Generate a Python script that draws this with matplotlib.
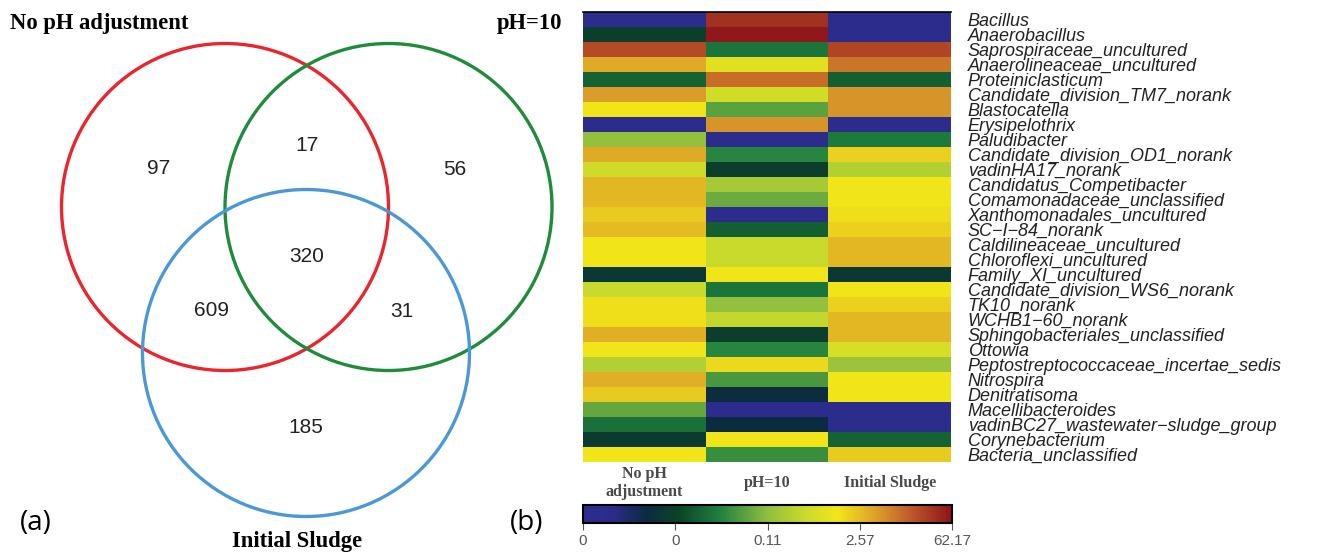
import numpy as np
import matplotlib
matplotlib.use('Agg')
import matplotlib.pyplot as plt
from matplotlib.patches import Circle
from matplotlib.colors import LinearSegmentedColormap
import matplotlib.transforms as mtransforms

# --- Venn data ---
set_names = ['No pH adjustment', 'pH=10', 'Initial Sludge']
# region counts: only A, only B, only C, AB, AC, BC, ABC
venn_counts = {'100': 97, '010': 56, '001': 185,
               '110': 17, '101': 609, '011': 31, '111': 320}

# --- heatmap data (scaled colour score, 0..1) ---
genera = [
    'Bacillus', 'Anaerobacillus', 'Saprospiraceae_uncultured',
    'Anaerolineaceae_uncultured', 'Proteiniclasticum',
    'Candidate_division_TM7_norank', 'Blastocatella', 'Erysipelothrix',
    'Paludibacter', 'Candidate_division_OD1_norank', 'vadinHA17_norank',
    'Candidatus_Competibacter', 'Comamonadaceae_unclassified',
    'Xanthomonadales_uncultured', 'SC\u2212I\u221284_norank',
    'Caldilineaceae_uncultured', 'Chloroflexi_uncultured',
    'Family_XI_uncultured', 'Candidate_division_WS6_norank', 'TK10_norank',
    'WCHB1\u221260_norank', 'Sphingobacteriales_unclassified', 'Ottowia',
    'Peptostreptococcaceae_incertae_sedis', 'Nitrospira', 'Denitratisoma',
    'Macellibacteroides', 'vadinBC27_wastewater\u2212sludge_group',
    'Corynebacterium', 'Bacteria_unclassified',
]
samples = ['No pH\nadjustment', 'pH=10', 'Initial Sludge']
no_ph = [0.03, 0.24, 0.91, 0.78, 0.32, 0.80, 0.69, 0.03, 0.51, 0.78,
         0.61, 0.76, 0.76, 0.73, 0.75, 0.69, 0.69, 0.22, 0.60, 0.70,
         0.70, 0.77, 0.69, 0.56, 0.77, 0.73, 0.45, 0.34, 0.23, 0.69]
ph10 = [0.95, 0.99, 0.35, 0.65, 0.86, 0.62, 0.44, 0.81, 0.03, 0.38,
        0.24, 0.54, 0.46, 0.03, 0.31, 0.60, 0.60, 0.69, 0.35, 0.51,
        0.59, 0.24, 0.38, 0.71, 0.42, 0.18, 0.03, 0.17, 0.69, 0.40]
initial = [0.03, 0.03, 0.92, 0.85, 0.31, 0.81, 0.81, 0.03, 0.36, 0.72,
           0.56, 0.69, 0.69, 0.70, 0.72, 0.76, 0.76, 0.22, 0.69, 0.72,
           0.76, 0.76, 0.63, 0.52, 0.69, 0.69, 0.03, 0.03, 0.32, 0.73]
cbar_labels = ['0', '0', '0.11', '2.57', '62.17']

W, H = 1327, 554
fig = plt.figure(figsize=(W / 100, H / 100), dpi=100)


def px_axes(x0, y0, x1, y1):
    return fig.add_axes([x0 / W, 1 - y1 / H, (x1 - x0) / W, (y1 - y0) / H])


# ---------------- (a) Venn ----------------
ax = px_axes(0, 0, 560, 554)
ax.set_xlim(0, 560)
ax.set_ylim(554, 0)
ax.axis('off')
centers = [(225, 207), (388.5, 207), (306, 353)]
radius = 163.5
colors = ['#e8262b', '#1f8c3b', '#4a99d6']
for (cx, cy), c in zip(centers, colors):
    ax.add_patch(Circle((cx, cy), radius, fill=False, ec=c, lw=2.4))

# place counts at the centroid of each region
gx, gy = np.meshgrid(np.arange(0, 560, 1.0), np.arange(0, 554, 1.0))
inside = [((gx - cx) ** 2 + (gy - cy) ** 2) < radius ** 2 for cx, cy in centers]
for key, n in venn_counts.items():
    mask = np.ones_like(gx, dtype=bool)
    for flag, ins in zip(key, inside):
        mask &= ins if flag == '1' else ~ins
    ax.text(gx[mask].mean(), gy[mask].mean(), str(n), ha='center',
            va='center', fontsize=15, family='Liberation Sans', color='#222222')

serif = dict(family='Liberation Serif', fontweight='bold')
ax.text(10, 24, set_names[0], ha='left', va='center', fontsize=16.3, **serif)
ax.text(562, 24, set_names[1], ha='right', va='center', fontsize=16.3, **serif)
ax.text(297, 552, set_names[2], ha='center', va='bottom', fontsize=16.3, **serif)
ax.text(20, 523, '(a)', ha='left', va='center', fontsize=20, family='Open Sans')

fig.text(510 / W, 1 - 523 / H, '(b)', ha='left', va='center', fontsize=20,
         family='Open Sans')

# ---------------- (b) heatmap ----------------
cmap = LinearSegmentedColormap.from_list('abund', [
    (0.00, '#2b2c8c'), (0.08, '#2b2c8a'), (0.17, '#0b2b40'),
    (0.26, '#0b4428'), (0.37, '#1f8040'), (0.50, '#8fbf3f'),
    (0.60, '#c9da2c'), (0.69, '#f2e619'), (0.80, '#db9d2a'),
    (0.90, '#ba5228'), (1.00, '#8c1419')])

data = np.column_stack([no_ph, ph10, initial])
hm = px_axes(583, 12, 951, 462)
im = hm.imshow(data, cmap=cmap, vmin=0, vmax=1, aspect='auto',
               interpolation='nearest')
for s in ['left', 'right', 'bottom']:
    hm.spines[s].set_visible(False)
hm.spines['top'].set_linewidth(1.2)
hm.set_xticks([])
hm.yaxis.tick_right()
hm.set_yticks(range(len(genera)))
hm.set_yticklabels(genera, fontsize=13, style='italic',
                   family='Liberation Sans', color='#222222')
hm.tick_params(axis='y', length=0, pad=12)

trans = mtransforms.blended_transform_factory(hm.transData, fig.transFigure)
for i, lab in enumerate(samples):
    hm.text(i, 1 - 483 / H, lab, transform=trans, ha='center', va='center',
            fontsize=11.5, color='#4a4a4a', linespacing=1.1, **serif)

cax = px_axes(583, 505, 952, 523)
cb = fig.colorbar(im, cax=cax, orientation='horizontal',
                  ticks=[0, 0.25, 0.5, 0.75, 1.0])
cb.ax.set_xticklabels(cbar_labels, fontsize=11, color='#555555',
                      family='Liberation Sans')
cb.ax.tick_params(length=5, color='#555555', pad=3)
cb.outline.set_linewidth(1.5)

fig.savefig('out.png', dpi=100)
